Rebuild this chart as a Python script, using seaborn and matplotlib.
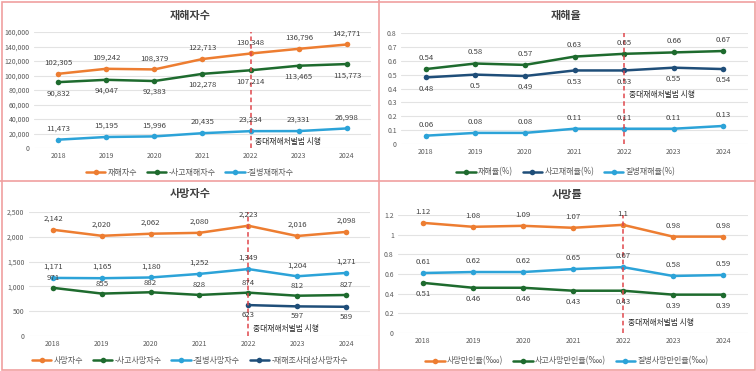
import numpy as np
import pandas as pd
import matplotlib
matplotlib.use("Agg")
import matplotlib.pyplot as plt
import seaborn as sns
from matplotlib.patches import Rectangle
from matplotlib.lines import Line2D
from matplotlib.ticker import FuncFormatter

years = [2018, 2019, 2020, 2021, 2022, 2023, 2024]

# 재해자수
injured_total = [102305, 109242, 108379, 122713, 130348, 136796, 142771]
injured_accident = [90832, 94047, 92383, 102278, 107214, 113465, 115773]
injured_disease = [11473, 15195, 15996, 20435, 23234, 23331, 26998]

# 재해율
rate_total = [0.54, 0.58, 0.57, 0.63, 0.65, 0.66, 0.67]
rate_accident = [0.48, 0.50, 0.49, 0.53, 0.53, 0.55, 0.54]
rate_disease = [0.06, 0.08, 0.08, 0.11, 0.11, 0.11, 0.13]

# 사망자수
death_total = [2142, 2020, 2062, 2080, 2223, 2016, 2098]
death_accident = [971, 855, 882, 828, 874, 812, 827]
death_disease = [1171, 1165, 1180, 1252, 1349, 1204, 1271]
death_investigated = [np.nan, np.nan, np.nan, np.nan, 623, 597, 589]

# 사망률
drate_total = [1.12, 1.08, 1.09, 1.07, 1.10, 0.98, 0.98]
drate_accident = [0.51, 0.46, 0.46, 0.43, 0.43, 0.39, 0.39]
drate_disease = [0.61, 0.62, 0.62, 0.65, 0.67, 0.58, 0.59]

ORANGE = "#ED7D31"
GREEN = "#1E6B2E"
BLUE = "#2CA3D8"
NAVY = "#1F4E79"
TXT = "#404040"

sns.set_theme(style="white")
plt.rcParams["font.family"] = ["Noto Sans CJK KR", "DejaVu Sans"]

W, H = 756, 371
fig = plt.figure(figsize=(W / 100, H / 100), dpi=100)


def px_axes(x0, x1, ytop, ybot):
    return fig.add_axes([x0 / W, 1 - ybot / H, (x1 - x0) / W, (ybot - ytop) / H])


def draw_panel(ax, series, ymax, ystep, fmt_tick, fmt_lab, law_y, offsets):
    idx = np.arange(len(years))
    for (label, vals, color), off in zip(series, offsets):
        df = pd.DataFrame({"x": idx, "y": vals})
        sns.lineplot(data=df, x="x", y="y", ax=ax, color=color, lw=1.8,
                     marker="o", markersize=4, markeredgewidth=0, label=label,
                     legend=False)
        for i, v in enumerate(vals):
            if np.isnan(v):
                continue
            ax.annotate(fmt_lab(v), (i, v), xytext=(0, off), textcoords="offset points",
                        ha="center", va="center", fontsize=5.6, color=TXT)
    ax.set_xlim(-0.5, len(years) - 0.5)
    ax.set_ylim(0, ymax)
    ax.set_yticks(np.arange(0, ymax + ystep / 2, ystep))
    ax.yaxis.set_major_formatter(FuncFormatter(lambda v, p: fmt_tick(v)))
    ax.set_xticks(idx)
    ax.set_xticklabels([str(y) for y in years])
    ax.tick_params(axis="both", labelsize=5.0, colors="#595959", length=0, pad=3)
    ax.grid(axis="y", color="#E3E3E3", lw=0.8)
    ax.set_axisbelow(True)
    for s in ax.spines.values():
        s.set_visible(False)
    ax.set_xlabel("")
    ax.set_ylabel("")
    ax.axvline(4, color="#E0474C", lw=1.1, ls=(0, (3, 2)))
    ax.text(4.1, law_y, "중대재해처벌법 시행", fontsize=5.6, color="#262626",
            va="center", ha="left")


def g(v):
    return f"{v:g}"


def comma(v):
    return f"{int(round(v)):,}"


# panel 1
ax1 = px_axes(34, 371, 32, 148)
s1 = [("재해자수", injured_total, ORANGE),
      ("-사고재해자수", injured_accident, GREEN),
      ("-질병재해자수", injured_disease, BLUE)]
draw_panel(ax1, s1, 160000, 20000, comma, comma, 8000, [8, -8, 8])

# panel 2
ax2 = px_axes(401, 748, 33, 144)
s2 = [("재해율(%)", rate_total, GREEN),
      ("사고재해율(%)", rate_accident, NAVY),
      ("질병재해율(%)", rate_disease, BLUE)]
draw_panel(ax2, s2, 0.8, 0.1, g, g, 0.35, [8, -8, 8])

# panel 3
ax3 = px_axes(28.6, 370.4, 212, 336)
s3 = [("사망자수", death_total, ORANGE),
      ("-사고사망자수", death_accident, GREEN),
      ("-질병사망자수", death_disease, BLUE),
      ("-재해조사대상사망자수", death_investigated, NAVY)]
draw_panel(ax3, s3, 2500, 500, comma, comma, 140, [8, 7, 8, -7])

# panel 4
ax4 = px_axes(398, 748, 215, 333)
s4 = [("사망만인율(‱)", drate_total, ORANGE),
      ("사고사망만인율(‱)", drate_accident, GREEN),
      ("질병사망만인율(‱)", drate_disease, BLUE)]
draw_panel(ax4, s4, 1.2, 0.2, g, g, 0.1, [8, -8, 8])

# titles and legends
titles = [("재해자수", 190, 15, ax1, 172), ("재해율", 566, 15, ax2, 172),
          ("사망자수", 190, 193, ax3, 360), ("사망률", 567, 195, ax4, 361)]
for t, x, y, ax, ly in titles:
    fig.text(x / W, 1 - y / H, t, ha="center", va="center", fontsize=8,
             fontweight="bold", color="#404040")
    handles, labels = ax.get_legend_handles_labels()
    fig.legend(handles, labels, loc="center", bbox_to_anchor=(x / W, 1 - ly / H),
               ncol=len(labels), frameon=False, fontsize=5.8, handlelength=2.4,
               columnspacing=1.2, handletextpad=0.3, labelcolor="#595959")

# panel borders
bc = "#F0A0A0"
fig.add_artist(Rectangle((1.5 / W, 1.5 / H), (W - 3) / W, (H - 3) / H,
                         transform=fig.transFigure, fill=False, ec=bc, lw=1.2))
fig.add_artist(Line2D([379 / W, 379 / W], [0, 1], transform=fig.transFigure, color=bc, lw=1.2))
fig.add_artist(Line2D([0, 1], [1 - 181 / H, 1 - 181 / H], transform=fig.transFigure, color=bc, lw=1.2))

fig.savefig("out.png", dpi=100)
